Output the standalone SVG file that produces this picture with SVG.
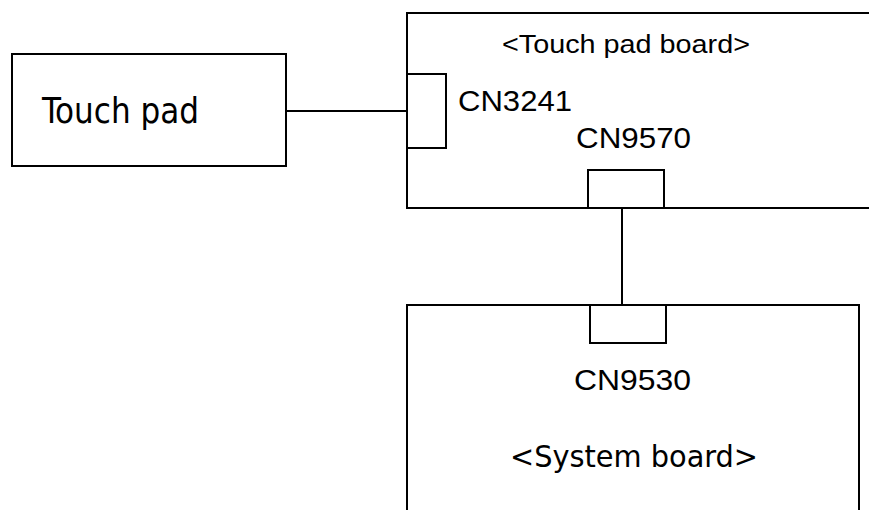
<svg xmlns="http://www.w3.org/2000/svg" width="869" height="510" viewBox="0 0 869 510">
<style>
.box{fill:none;stroke:#000;stroke-width:2}
.ln{stroke:#000;stroke-width:2;fill:none}
.sans{font-family:"Liberation Sans",Arial,sans-serif;fill:#000}
.cond{font-family:"DejaVu Sans Condensed","DejaVu Sans",sans-serif;fill:#000}
</style>
<rect width="869" height="510" fill="#fff"/>
<g id="touchpad">
<rect class="box" x="12" y="54" width="274" height="112"/>
<text class="cond" x="42" y="123" font-size="36" textLength="157" lengthAdjust="spacingAndGlyphs">Touch pad</text>
</g>
<g id="touchpadboard">
<path class="box" d="M870,13 H407 V208 H870"/>
<text class="sans" x="502" y="53" font-size="25" textLength="248" lengthAdjust="spacingAndGlyphs">&lt;Touch pad board&gt;</text>
</g>
<g id="cn3241">
<rect class="box" x="407" y="74" width="39" height="74"/>
<text class="sans" x="458" y="111" font-size="30" textLength="114" lengthAdjust="spacingAndGlyphs">CN3241</text>
</g>
<g id="cn9570">
<rect class="box" x="588" y="170" width="76" height="38"/>
<text class="sans" x="576" y="148" font-size="30" textLength="115" lengthAdjust="spacingAndGlyphs">CN9570</text>
</g>
<g id="systemboard">
<path class="box" d="M407,512 V305 H859 V512"/>
<text class="cond" x="510" y="467" font-size="30" textLength="248" lengthAdjust="spacingAndGlyphs">&lt;System board&gt;</text>
</g>
<g id="cn9530">
<rect class="box" x="590" y="305" width="76" height="38"/>
<text class="sans" x="574" y="390" font-size="30" textLength="117" lengthAdjust="spacingAndGlyphs">CN9530</text>
</g>
<g id="connectors">
<line class="ln" x1="286" y1="111" x2="407" y2="111"/>
<line class="ln" x1="622" y1="208" x2="622" y2="305"/>
</g>
</svg>
